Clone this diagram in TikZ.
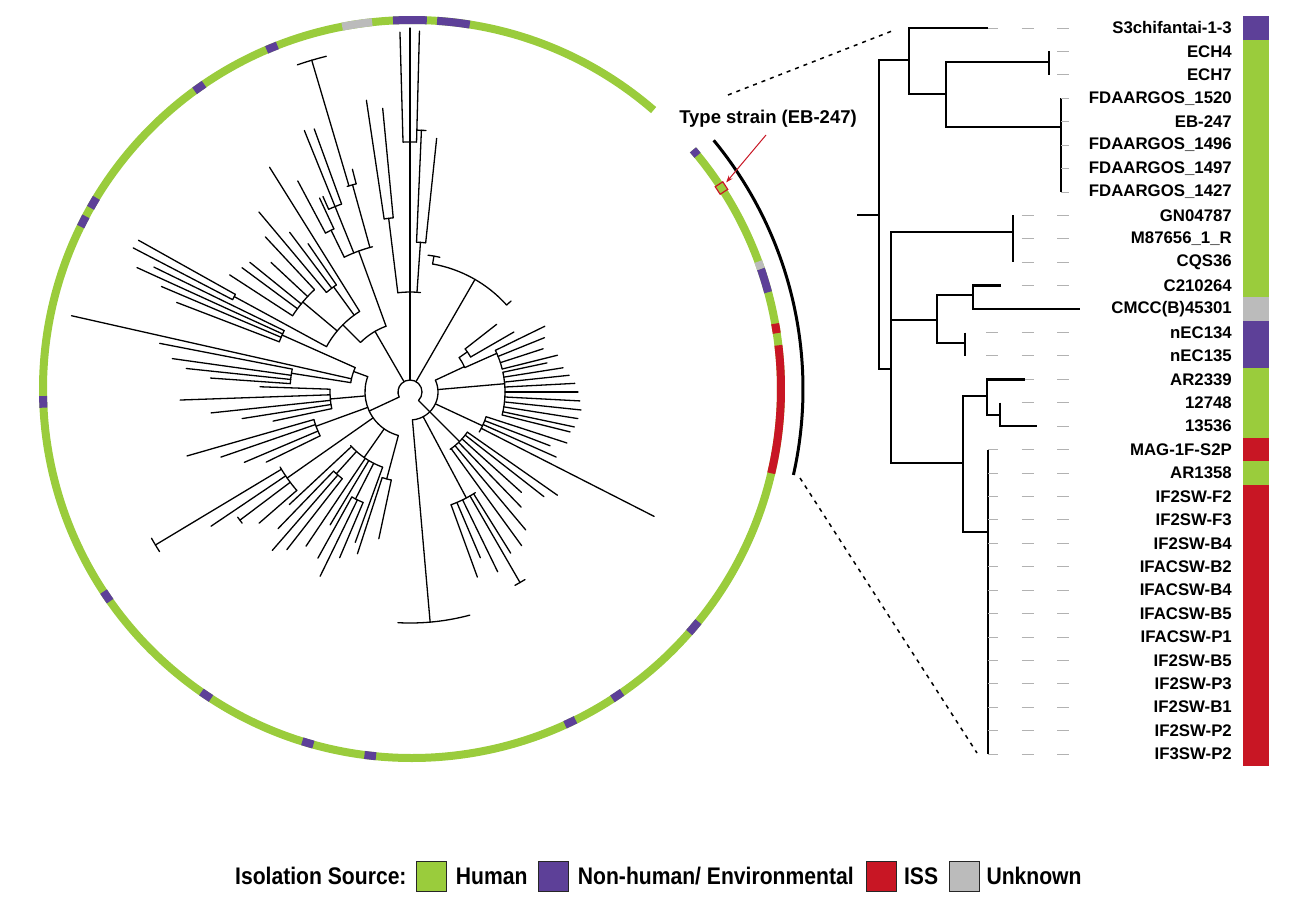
\documentclass[tikz,border=0pt]{standalone}
\usepackage{fontspec}
\setmainfont{Liberation Sans}
\newfontfamily\legfont[FakeStretch=0.88]{Liberation Sans}
\usetikzlibrary{arrows.meta,positioning}
\definecolor{human}{RGB}{154,204,60}
\definecolor{nonhum}{RGB}{93,64,152}
\definecolor{iss}{RGB}{200,22,36}
\definecolor{unk}{RGB}{187,187,187}

\begin{document}
\begin{tikzpicture}[x=1pt,y=-1pt,
  tr/.style={line width=1.3pt,line cap=round},
  rtr/.style={line width=2.4pt},
  lead/.style={black!30,line width=0.8pt,dash pattern=on 12pt off 23.5pt},
  lab/.style={anchor=east,inner sep=0pt,font=\bfseries\fontsize{16.8}{18}\selectfont},
  ring/.style={line width=8pt},
  zoomline/.style={line width=1.5pt,dash pattern=on 4pt off 5pt},
  legtext/.style={font=\legfont\bfseries\fontsize{24}{26}\selectfont,inner sep=0pt},
  legbox/.style={draw=black!85,line width=1pt,minimum width=30pt,minimum height=30pt,inner sep=0pt}]
\useasboundingbox (0,0) rectangle (1301,897);

% circular tree
\begin{scope}[shift={(410,392)}]
\draw[tr] (-45:12pt) arc[start angle=-45,end angle=205,radius=12pt];
\foreach \a/\b/\r in {84/97/100,95.5/98.5/175,88.5/91.6/250,84/87.5/150,86.5/88.5/262,
  42/80/130,77.5/82.5/138,
  110/135/70,104.5/116/150,104.5/107/215,104/109/346,110/114/200,115/118/180,
  122/151.5/95,124.5/130/130,133/147/140,150.8/152.5/200,
  160/255/45,156/171/60,154/159/140,169/176/120,178/192/80,196/206/100,210/221/150,
  209.5/212.5/297,216/218/213,222/250/80,226/232/110,241/247/120,252/258/90,
  -85/25/28,24/35/60,30/38/70,14/26/95,-14/12/95,-30/-18/80,-55/-35/70,-70/-57/120,
  -61.5/-58.5/220,-93/-75/231}
  \draw[tr] (\a:\r pt) arc[start angle=\a,end angle=\b,radius=\r pt];
\foreach \a/\r/\s in {205/12/45,120/12/70,90/12/100,60/12/130,-45/12/28,
  97/100/175,90/100/250,86/100/150,98.5/175/295,95.5/175/285,91.6/250/360,90/250/364,
  88.5/250/361,87.5/150/262,84/150/255,
  80/130/138,42/130/136,
  110/70/150,135/70/95,105.5/150/215,112/150/200,116/150/180,106.5/215/346,104.5/215/230,
  110/200/280,112/200/282,114/200/214,115/180/214,118/180/239,
  122/95/265,126/95/130,140/95/140,151.5/95/200,124.5/130/180,127/130/200,130/130/235,
  133/140/212,137/140/190,141/140/206,143.5/140/209,147/140/215,150.8/200/311,152.5/200/312,
  160/45/60,185/45/80,200/45/100,215/45/150,235/45/80,255/45/90,
  156/60/140,167.3/60/347,171/60/120,154/140/285,155.5/140/300,157/140/270,159/140/250,
  169/120/255,172/120/240,174/120/225,176/120/200,
  178/80/150,182/80/230,186/80/200,189/80/170,192/80/140,
  196/100/232,199/100/200,203/100/180,206/100/160,
  211/150/297,214/150/240,217/150/213,221/150/200,
  223/80/165,228/80/110,236/80/186,239/80/155,243/80/120,250/80/160,
  226/110/190,229/110/210,232/110/200,241/120/190,244/120/205,247/120/180,
  252/90/170,258/90/150,
  25/28/60,5/28/95,-25/28/80,-45/28/70,-62/28/120,-85/28/231,
  35/60/70,24/60/95,30/70/120,38/70/110,26/95/150,22/95/145,18/95/140,14/95/152,
  12/95/140,9/95/155,6/95/160,3/95/165,0/95/168,-3/95/170,-6/95/172,-9/95/170,-12/95/168,-14/95/165,
  -18/80/165,-21/80/150,-24/80/160,-27/80/274,
  -35/70/180,-38/70/170,-42/70/150,-46/70/160,-50/70/180,-54/70/190,
  -58/120/190,-60/120/220,-64/120/200,-67/120/180,-70/120/197}
  \draw[tr] (\a:\r pt) -- (\a:\s pt);
\end{scope}

% ring of isolation sources
\begin{scope}[shift={(412,389)}]
\draw[ring,human] (49.1:369pt) arc[start angle=49.1,end angle=400.4,radius=369pt];
\foreach \a/\b/\c in {81/86.1/nonhum,87.7/92.95/nonhum,96.2/100.9/unk,111.4/113.2/nonhum,
  124.3/126.1/nonhum,148.8/150.6/nonhum,152.1/153.9/nonhum,181.1/182.9/nonhum,
  213.3/215.1/nonhum,235.2/237/nonhum,252.7/254.5/nonhum,262.6/264.4/nonhum,
  294.5/296.3/nonhum,302.9/304.7/nonhum,318.7/320.9/nonhum,346.8/366.8/iss,
  368.7/370.2/iss,375.2/379/nonhum,379/380.2/unk,399.3/400.4/nonhum}
  \draw[ring,\c] (\a:369pt) arc[start angle=\a,end angle=\b,radius=369pt];
\draw[line width=3pt] (39.5:391pt) arc[start angle=39.5,end angle=-12.7,radius=391pt];
\node[draw=iss,line width=1.2pt,minimum size=9pt,inner sep=0pt,rotate=33] (ebbox) at (33:369pt) {};
\end{scope}

\node[font=\bfseries\fontsize{18.5}{20}\selectfont,inner sep=0pt] (tstext) at (768,119) {Type strain (EB-247)};
\coordinate (tsfoot) at (766,135);
\draw[iss,line width=1pt,-{Stealth[length=7pt,width=5pt]},shorten >=2pt] (tsfoot) -- (ebbox);

\coordinate (zt1) at (728,95);
\coordinate (zt2) at (892,31);
\coordinate (zb1) at (800,478);
\coordinate (zb2) at (977,753);
\draw[zoomline] (zt1) -- (zt2);
\draw[zoomline] (zb1) -- (zb2);

% subtree
\draw[rtr] (857,215) -- (879,215);
\draw[rtr] (909,60) -| (879,369) -- (891,369);
\draw[rtr] (988,28) -| (909,94) -- (946,94);
\draw[rtr] (1049,62) -| (946,127) -- (1061,127);
\draw[rtr] (1049,51.4) -- (1049,74.8);
\draw[rtr] (1061,98.3) -- (1061,191.9);
\draw[rtr] (1013,232) -| (891,463) -- (963,463);
\draw[rtr] (891,320) -- (937,320);
\draw[rtr] (1013,215.4) -- (1013,262.2);
\draw[rtr] (973,295) -| (937,343) -- (965,343);
\draw[rtr] (1001,285.6) -| (973,309) -- (1080,309);
\draw[rtr] (965,332.5) -- (965,355.9);
\draw[rtr] (987,396) -| (963,532) -- (988,532);
\draw[rtr] (1025,379.3) -| (987,415) -- (1000,415);
\draw[rtr] (1000,402.7) |- (1037,426.1);
\draw[rtr] (988,449.6) -- (988,613.5);
\draw[line width=1.5pt] (988,613.5) -- (988,754);

\foreach \i/\t in {1/988,2/1049,3/1049,4/1061,5/1061,6/1061,7/1061,8/1061,9/1013,10/1013,
  11/1013,12/1001,14/965,15/965,16/1025,17/1000,18/1037,19/988,20/988,21/988,22/988,
  23/988,24/988,25/988,26/988,27/988,28/988,29/988,30/988,31/988,32/988}{
  \begin{scope}
    \clip (\t,{28+(\i-1)*23.42-3}) rectangle (1070,{28+(\i-1)*23.42+3});
    \draw[lead] (986,{28+(\i-1)*23.42}) -- (1069,{28+(\i-1)*23.42});
  \end{scope}}

\foreach \i/\n in {1/S3chifantai-1-3,2/ECH4,3/ECH7,4/FDAARGOS\_1520,5/EB-247,
  6/FDAARGOS\_1496,7/FDAARGOS\_1497,8/FDAARGOS\_1427,9/GN04787,10/M87656\_1\_R,
  11/CQS36,12/C210264,13/CMCC(B)45301,14/nEC134,15/nEC135,16/AR2339,17/12748,
  18/13536,19/MAG-1F-S2P,20/AR1358,21/IF2SW-F2,22/IF2SW-F3,23/IF2SW-B4,
  24/IFACSW-B2,25/IFACSW-B4,26/IFACSW-B5,27/IFACSW-P1,28/IF2SW-B5,29/IF2SW-P3,
  30/IF2SW-B1,31/IF2SW-P2,32/IF3SW-P2}
  \node[lab] (lab\i) at (1232,{28+(\i-1)*23.42}) {\n};

\foreach \a/\b/\c in {16.3/39.7/nonhum,39.7/297.3/human,297.3/320.7/unk,320.7/367.6/nonhum,
  367.6/437.8/human,437.8/461.3/iss,461.3/484.7/human,484.7/765.7/iss}
  \fill[\c] (1243,\a) rectangle (1269,\b);

% legend
\node[legtext,anchor=west] (leg) at (235,876) {Isolation Source:};
\node[legbox,fill=human,right=9pt of leg] (boxh) {};
\node[legtext,right=9pt of boxh] (txth) {Human};
\node[legbox,fill=nonhum,right=10pt of txth] (boxn) {};
\node[legtext,right=9pt of boxn] (txtn) {Non-human/ Environmental};
\node[legbox,fill=iss,right=12pt of txtn] (boxi) {};
\node[legtext,right=7pt of boxi] (txti) {ISS};
\node[legbox,fill=unk,right=11pt of txti] (boxu) {};
\node[legtext,right=6pt of boxu] (txtu) {Unknown};
\end{tikzpicture}
\end{document}
